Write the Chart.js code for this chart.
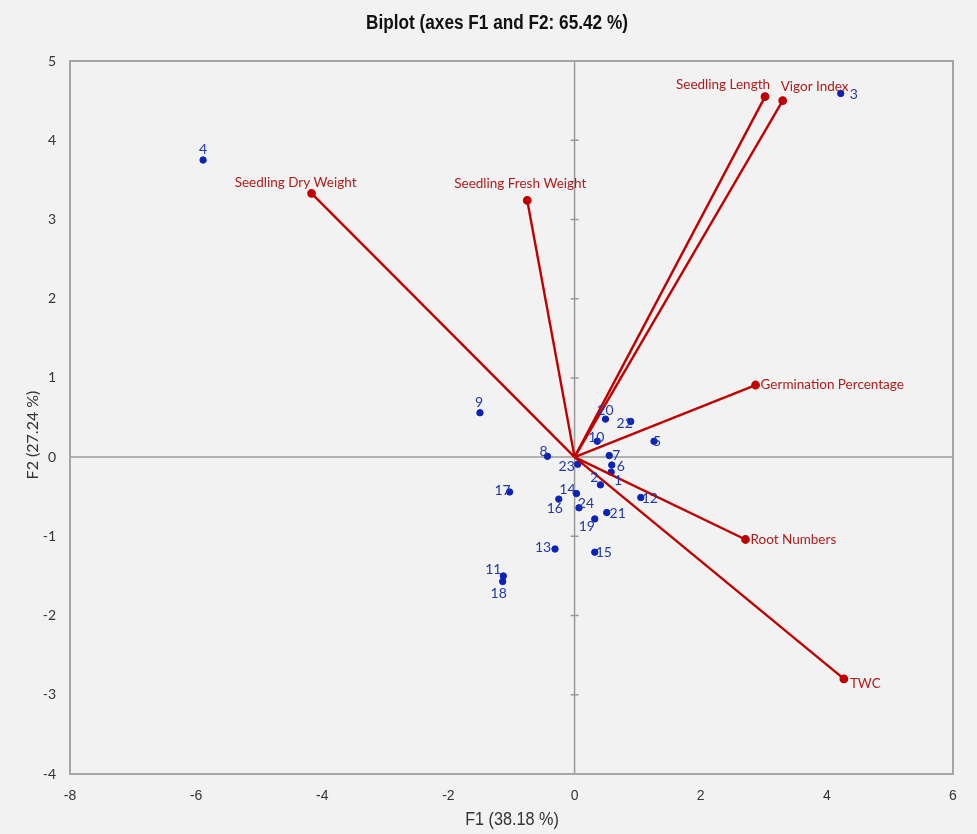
<!DOCTYPE html>
<html>
<head>
<meta charset="utf-8">
<script src="https://cdn.jsdelivr.net/npm/chart.js@4"></script>
<style>
  body { margin: 0; background: #f2f2f2; }
  canvas { display: block; }
</style>
</head>
<body>
<canvas id="Biplot" width="977" height="834"></canvas>
<script>
// observations (F1, F2 scores)
const obsLabels = ["1", "2", "3", "4", "5", "6", "7", "8", "9", "10", "11", "12",
  "13", "14", "15", "16", "17", "18", "19", "20", "21", "22", "23", "24"];
const obsF1 = [0.58, 0.41, 4.22, -5.89, 1.26, 0.59, 0.55, -0.43, -1.50, 0.36, -1.13, 1.05,
  -0.31, 0.03, 0.32, -0.25, -1.03, -1.14, 0.32, 0.49, 0.51, 0.89, 0.05, 0.07];
const obsF2 = [-0.19, -0.35, 4.59, 3.75, 0.20, -0.10, 0.02, 0.01, 0.56, 0.20, -1.50, -0.51,
  -1.16, -0.46, -1.20, -0.53, -0.44, -1.57, -0.78, 0.48, -0.70, 0.45, -0.09, -0.64];

// variables (loading vectors)
const varNames = ["Seedling Length", "Vigor Index", "Seedling Dry Weight", "Seedling Fresh Weight",
  "Germination Percentage", "Root Numbers", "TWC"];
const varF1 = [3.02, 3.30, -4.17, -0.75, 2.87, 2.71, 4.27];
const varF2 = [4.55, 4.50, 3.33, 3.24, 0.91, -1.04, -2.80];

const chartTitle = "Biplot (axes F1 and F2: 65.42 %)";
const xTitle = "F1 (38.18 %)";
const yTitle = "F2 (27.24 %)";

// label placement (pixel offsets from the mark)
const obsLabelOffset = {
  "1": [7, 8], "2": [-6, -7], "3": [13, 1], "4": [0, -11], "5": [3, 0], "6": [9, 1],
  "7": [7, 0], "8": [-4, -5], "9": [-1, -10], "10": [-1, -4], "11": [-10, -6], "12": [9, 1],
  "13": [-12, -2], "14": [-9, -4], "15": [9, 0], "16": [-4, 9], "17": [-7, -1], "18": [-4, 12],
  "19": [-8, 8], "20": [0, -9], "21": [11, 1], "22": [-6, 2], "23": [-11, 2], "24": [7, -4],
};
const varLabelStyle = {
  "Seedling Length": { dx: 5, dy: -12, align: "right" },
  "Vigor Index": { dx: -2, dy: -14, align: "left" },
  "Seedling Dry Weight": { dx: -16, dy: -11, align: "center" },
  "Seedling Fresh Weight": { dx: -7, dy: -17, align: "center" },
  "Germination Percentage": { dx: 5, dy: 0, align: "left" },
  "Root Numbers": { dx: 5, dy: 0, align: "left" },
  "TWC": { dx: 6, dy: 5, align: "left" },
};

const RED = "#c00000";
const BLUE = "#0b22b8";
const GREY = "#9a9a9a";
const NARROW = "'Liberation Sans Narrow', 'Liberation Sans', sans-serif";

const datasets = [
  {
    label: "Observations",
    data: obsF1.map((x, i) => ({ x, y: obsF2[i] })),
    backgroundColor: BLUE,
    borderColor: BLUE,
    pointRadius: 3.2,
    showLine: false,
    order: 2,
  },
];

varNames.forEach((name, i) => {
  datasets.push({
    label: name,
    data: [{ x: 0, y: 0 }, { x: varF1[i], y: varF2[i] }],
    borderColor: RED,
    backgroundColor: RED,
    borderWidth: 2.4,
    pointRadius: [0, 3.2],
    showLine: true,
    order: 1,
  });
});

// draws condensed text (no narrow face installed)
function narrowText(ctx, text, x, y, squeeze) {
  ctx.save();
  ctx.translate(x, y);
  ctx.scale(squeeze, 1);
  ctx.fillText(text, 0, 0);
  ctx.restore();
}

const biplotDecor = {
  id: "biplotDecor",
  beforeDatasetsDraw(chart) {
    const { ctx, chartArea, scales } = chart;
    const x0 = scales.x.getPixelForValue(0);
    const y0 = scales.y.getPixelForValue(0);
    ctx.save();
    ctx.strokeStyle = GREY;
    ctx.lineWidth = 1.5;
    ctx.beginPath();
    ctx.moveTo(x0, chartArea.top);
    ctx.lineTo(x0, chartArea.bottom);
    ctx.moveTo(chartArea.left, y0);
    ctx.lineTo(chartArea.right, y0);
    // small ticks on the vertical zero line
    scales.y.ticks.forEach((t) => {
      const p = scales.y.getPixelForValue(t.value);
      ctx.moveTo(x0 - 4, p);
      ctx.lineTo(x0 + 4, p);
    });
    ctx.stroke();
    ctx.lineWidth = 2;
    ctx.strokeStyle = "#a6a6a6";
    ctx.strokeRect(chartArea.left, chartArea.top,
      chartArea.right - chartArea.left, chartArea.bottom - chartArea.top);
    ctx.restore();
  },
  afterDatasetsDraw(chart) {
    const { ctx, scales, chartArea } = chart;
    ctx.save();
    ctx.textBaseline = "middle";

    ctx.font = "14px Lato, sans-serif";
    ctx.fillStyle = "#1f3aa6";
    ctx.textAlign = "center";
    obsLabels.forEach((lab, i) => {
      const off = obsLabelOffset[lab] || [8, 0];
      const px = scales.x.getPixelForValue(obsF1[i]);
      const py = scales.y.getPixelForValue(obsF2[i]);
      ctx.fillText(lab, px + off[0], py + off[1]);
    });

    ctx.font = "13.5px Lato, sans-serif";
    ctx.fillStyle = "#b01c1c";
    varNames.forEach((name, i) => {
      const st = varLabelStyle[name];
      const px = scales.x.getPixelForValue(varF1[i]);
      const py = scales.y.getPixelForValue(varF2[i]);
      ctx.textAlign = st.align;
      ctx.fillText(name, px + st.dx, py + st.dy);
    });

    // titles
    ctx.fillStyle = "#111";
    ctx.textAlign = "center";
    ctx.font = "bold 20px " + NARROW;
    narrowText(ctx, chartTitle, 497, 23, 0.86);

    ctx.fillStyle = "#333";
    ctx.font = "18px " + NARROW;
    narrowText(ctx, xTitle, 512, 820, 0.9);

    ctx.font = "16px Lato, sans-serif";
    ctx.translate(33, 435);
    ctx.rotate(-Math.PI / 2);
    ctx.fillText(yTitle, 0, 0);
    ctx.restore();
  },
};

new Chart(document.getElementById("Biplot"), {
  type: "scatter",
  data: { datasets },
  plugins: [biplotDecor],
  options: {
    responsive: false,
    animation: false,
    layout: { padding: { top: 61, right: 24, left: 0, bottom: 0 } },
    plugins: {
      legend: { display: false },
      tooltip: { enabled: false },
    },
    scales: {
      x: {
        type: "linear",
        min: -8,
        max: 6,
        ticks: {
          stepSize: 2,
          padding: 14,
          color: "#333",
          font: { family: NARROW, size: 14 },
        },
        grid: { display: false, drawTicks: false },
        border: { display: false },
        afterFit(scale) { scale.height = 60; },
      },
      y: {
        type: "linear",
        min: -4,
        max: 5,
        ticks: {
          stepSize: 1,
          padding: 14,
          color: "#333",
          font: { family: "Lato, sans-serif", size: 14 },
        },
        grid: { display: false, drawTicks: false },
        border: { display: false },
        afterFit(scale) { scale.width = 70; },
      },
    },
  },
});
</script>
</body>
</html>
